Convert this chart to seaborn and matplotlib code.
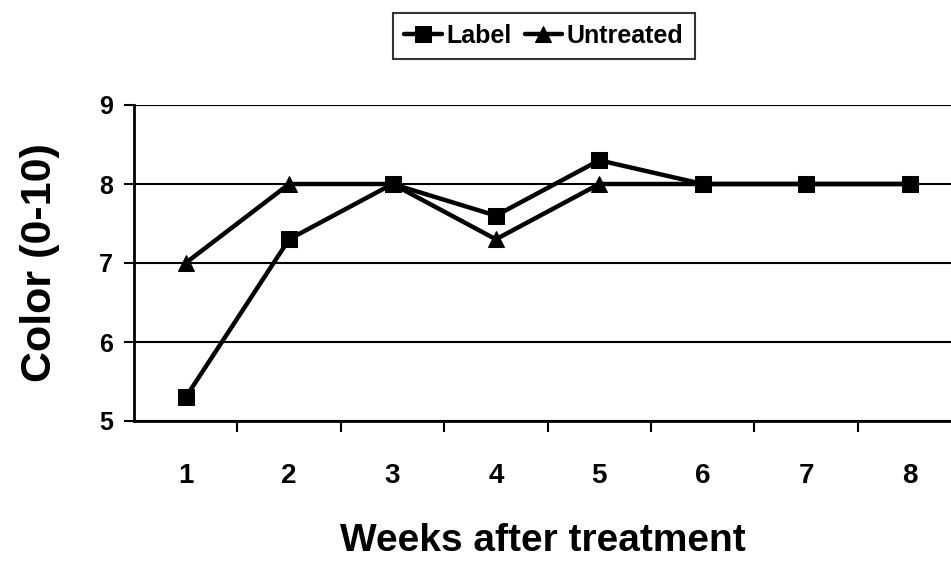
import matplotlib
matplotlib.use("Agg")
import matplotlib.pyplot as plt
import seaborn as sns
import pandas as pd

weeks = [1, 2, 3, 4, 5, 6, 7, 8]
label_vals = [5.3, 7.3, 8.0, 7.6, 8.3, 8.0, 8.0, 8.0]
untreated_vals = [7.0, 8.0, 8.0, 7.3, 8.0, 8.0, 8.0, 8.0]
series_names = ["Label", "Untreated"]
yticks = [5, 6, 7, 8, 9]

df = pd.DataFrame({
    "week": weeks * 2,
    "value": label_vals + untreated_vals,
    "series": [series_names[0]] * len(weeks) + [series_names[1]] * len(weeks),
})

sns.set_style("white")
plt.rcParams["font.family"] = ["Liberation Sans", "DejaVu Sans"]
plt.rcParams["text.color"] = "black"
plt.rcParams["axes.labelcolor"] = "black"
plt.rcParams["xtick.color"] = "black"
plt.rcParams["ytick.color"] = "black"

fig = plt.figure(figsize=(9.51, 5.63), dpi=100)
ax = fig.add_axes([134 / 951, 1 - 421 / 563, (951 - 134) / 951, (421 - 105) / 563])

sns.lineplot(data=df, x="week", y="value", hue="series", style="series",
             palette=["black", "black"], markers={"Label": "s", "Untreated": "^"},
             dashes=False, linewidth=3.2, markersize=12, markeredgecolor="black",
             ax=ax, legend=True)

ax.set_xlim(0.5, 0.5 + (951 - 134) / 103.4)
ax.set_ylim(5, 9)
ax.set_yticks(yticks)
ax.set_yticklabels([str(t) for t in yticks], fontsize=18, fontweight="bold")
ax.set_xticks(weeks)
ax.set_xticklabels([str(w) for w in weeks], fontsize=20, fontweight="bold")
ax.set_xticks([w + 0.5 for w in weeks[:-1]], minor=True)
ax.tick_params(axis="x", which="major", bottom=False, length=0, pad=30)
ax.tick_params(axis="x", which="minor", bottom=True, length=8, width=1.5, direction="out", color="black")
ax.tick_params(axis="y", which="major", left=True, length=7, width=1.5, direction="out", color="black", pad=8)
ax.yaxis.grid(True, color="black", linewidth=1.5)
ax.set_axisbelow(True)
for s in ["top", "right"]:
    ax.spines[s].set_visible(False)
for s in ["left", "bottom"]:
    ax.spines[s].set_color("black")
    ax.spines[s].set_linewidth(2)

ax.set_xlabel("Weeks after treatment", fontsize=28, fontweight="bold", labelpad=25)
ax.set_ylabel("Color (0-10)", fontsize=31, fontweight="bold", labelpad=28)

handles, labels = ax.get_legend_handles_labels()
ax.legend(handles, labels, loc="center", bbox_to_anchor=(544 / 951, 1 - 36 / 563),
          bbox_transform=fig.transFigure, ncol=2, frameon=True, fancybox=False,
          edgecolor="black", prop={"weight": "bold", "size": 18},
          handlelength=1.5, handletextpad=0.2, columnspacing=0.5, borderpad=0.45,
          markerscale=1.0)
ax.get_legend().get_frame().set_linewidth(1.5)

fig.savefig("out.png", dpi=100)
